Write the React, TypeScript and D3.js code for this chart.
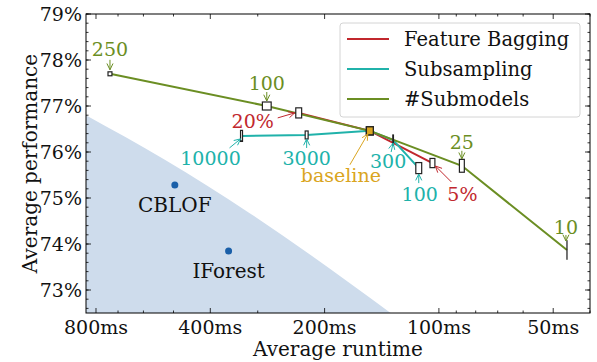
import { useEffect, useRef } from 'react';
import * as d3 from 'd3';

const W = 597;
const H = 362;

// Feature Bagging (fraction of features)
const fbLabels = ['20%', 'baseline', '5%'];
const fbRuntime = [234, 152, 104];
const fbPerf = [76.85, 76.46, 75.76];
const fbRtErr = [0.018, 0.021, 0.015];
const fbPerfErr = [0.11, 0.087, 0.1];

// Subsampling (samples per submodel)
const ssLabels = ['10000', '3000', 'baseline', '300', '100'];
const ssRuntime = [331, 223, 152, 132, 113];
const ssPerf = [76.35, 76.37, 76.46, 76.26, 75.65];
const ssRtErr = [0.006, 0.009, 0.021, 0.002, 0.018];
const ssPerfErr = [0.12, 0.087, 0.087, 0.11, 0.12];

// #Submodels
const smLabels = ['250', '100', 'baseline', '25', '10'];
const smRuntime = [735, 284, 152, 87, 46];
const smPerf = [77.7, 77.0, 76.46, 75.7, 73.87];
const smRtErr = [0.012, 0.027, 0.021, 0.015, 0.0];
const smPerfErr = [0.043, 0.087, 0.087, 0.14, 0.2];

// other detectors
const otherNames = ['CBLOF', 'IForest'];
const otherRuntime = [496, 358];
const otherPerf = [75.28, 73.85];

// dominated region boundary
const frontierRuntime = [850, 527, 315, 134];
const frontierPerf = [76.8, 75.83, 74.67, 72.5];

const xTickValues = [800, 400, 200, 100, 50];
const xTickLabels = ['800ms', '400ms', '200ms', '100ms', '50ms'];
const xMinorValues = [40, 60, 70, 80, 90, 300, 500, 600, 700];
const yTickValues = [73, 74, 75, 76, 77, 78, 79];

const RED = '#c1272d';
const TEAL = '#20b2aa';
const GREEN = '#6b8e23';
const ORANGE = '#daa520';
const FONT = "'DejaVu Serif', 'Liberation Serif', serif";

// annotation layout: [labelDx, labelDy, tailDx, tailDy, headDx, headDy] relative to point
const fbAnnot = [[-46, 8, -21, 5, -4, 0], null, [30, 31, 19, 19, 3, 3]];
const ssAnnot = [
  [-31, 22, -12, 12, -1, 3],
  [0, 23, 0, 13, 0, 4],
  null,
  [-5, 21, -2, 12, 0, 3],
  [1, 26, 0, 15, 0, 6],
];
const smAnnot = [
  [0, -24, 0, -14, 0, -4],
  [0, -23, 0, -14, 0, -5],
  null,
  [0, -23, 0, -15, 0, -7],
  [-1, -23, -1, -15, -1, -9],
];
const baseAnnot = [-29, 45, -20, 34, -2, 3];

export default function App() {
  const ref = useRef<SVGSVGElement | null>(null);

  useEffect(() => {
    if (!ref.current) return;
    document.body.style.margin = '0';
    const svg = d3.select(ref.current);
    svg.selectAll('*').remove();

    const left = 86, right = 590, top = 14, bottom = 313;

    const x = d3.scaleLog().domain([850, 40]).range([left, right]);
    const y = d3.scaleLinear().domain([72.5, 79]).range([bottom, top]);

    svg.append('defs').append('clipPath').attr('id', 'plot-clip')
      .append('rect')
      .attr('x', left).attr('y', top)
      .attr('width', right - left).attr('height', bottom - top);

    const plot = svg.append('g').attr('clip-path', 'url(#plot-clip)');

    // shaded region
    const pts: [number, number][] = frontierRuntime.map((r, i) => [x(r), y(frontierPerf[i])]);
    const frontier = d3.line().curve(d3.curveMonotoneX)(pts) || '';
    plot.append('path')
      .attr('d', `${frontier}L${x(40)},${y(72.5)}L${x(850)},${y(72.5)}Z`)
      .attr('fill', '#cedcec');

    // other detectors
    otherNames.forEach((name, i) => {
      plot.append('circle')
        .attr('cx', x(otherRuntime[i]))
        .attr('cy', y(otherPerf[i]))
        .attr('r', 3.5)
        .attr('fill', '#1a5fa8');
      svg.append('text')
        .attr('x', x(otherRuntime[i]))
        .attr('y', y(otherPerf[i]) + 20)
        .attr('dy', '0.35em')
        .attr('text-anchor', 'middle')
        .attr('font-family', FONT)
        .attr('font-size', 20)
        .attr('fill', '#111')
        .text(name);
    });

    const series = [
      { labels: fbLabels, rt: fbRuntime, perf: fbPerf, rtErr: fbRtErr, perfErr: fbPerfErr, color: RED, annot: fbAnnot },
      { labels: ssLabels, rt: ssRuntime, perf: ssPerf, rtErr: ssRtErr, perfErr: ssPerfErr, color: TEAL, annot: ssAnnot },
      { labels: smLabels, rt: smRuntime, perf: smPerf, rtErr: smRtErr, perfErr: smPerfErr, color: GREEN, annot: smAnnot },
    ];

    series.forEach(s => {
      const l = d3.line<number>()
        .x((_, i) => x(s.rt[i]))
        .y((_, i) => y(s.perf[i]));
      plot.append('path')
        .attr('d', l(s.rt) || '')
        .attr('fill', 'none')
        .attr('stroke', s.color)
        .attr('stroke-width', 2);
    });

    // boxes (runtime spread x performance spread)
    series.forEach(s => {
      s.rt.forEach((r, i) => {
        const x1 = x(r * (1 + s.rtErr[i]));
        const x2 = x(r / (1 + s.rtErr[i]));
        const y1 = y(s.perf[i] + s.perfErr[i]);
        const y2 = y(s.perf[i] - s.perfErr[i]);
        const isBase = s.labels[i] === 'baseline';
        plot.append('rect')
          .attr('x', Math.min(x1, x2))
          .attr('y', y1)
          .attr('width', Math.max(Math.abs(x2 - x1), 0.05))
          .attr('height', y2 - y1)
          .attr('fill', isBase ? ORANGE : '#fff')
          .attr('stroke', '#222')
          .attr('stroke-width', 1.2);
      });
    });

    // annotations
    const drawArrow = (x0: number, y0: number, x1: number, y1: number, color: string) => {
      const ang = Math.atan2(y1 - y0, x1 - x0);
      const hl = 7, ha = 0.45;
      const p = d3.path();
      p.moveTo(x0, y0); p.lineTo(x1, y1);
      p.moveTo(x1 - hl * Math.cos(ang - ha), y1 - hl * Math.sin(ang - ha));
      p.lineTo(x1, y1);
      p.lineTo(x1 - hl * Math.cos(ang + ha), y1 - hl * Math.sin(ang + ha));
      svg.append('path')
        .attr('d', p.toString())
        .attr('fill', 'none')
        .attr('stroke', color)
        .attr('stroke-width', 1);
    };

    const annotate = (px: number, py: number, a: number[], text: string, color: string) => {
      svg.append('text')
        .attr('x', px + a[0])
        .attr('y', py + a[1])
        .attr('dy', '0.35em')
        .attr('text-anchor', 'middle')
        .attr('font-family', FONT)
        .attr('font-size', 19)
        .attr('fill', color)
        .text(text);
      drawArrow(px + a[2], py + a[3], px + a[4], py + a[5], color);
    };

    series.forEach(s => {
      s.annot.forEach((a, i) => {
        if (!a) return;
        annotate(x(s.rt[i]), y(s.perf[i]), a, s.labels[i], s.color);
      });
    });

    const bi = ssLabels.indexOf('baseline');
    annotate(x(ssRuntime[bi]), y(ssPerf[bi]), baseAnnot, 'baseline', ORANGE);

    // frame and ticks
    svg.append('rect')
      .attr('x', left).attr('y', top)
      .attr('width', right - left).attr('height', bottom - top)
      .attr('fill', 'none').attr('stroke', '#000').attr('stroke-width', 1);

    const ticks = svg.append('g').attr('stroke', '#000').attr('stroke-width', 0.8);
    const xt = (v: number, len: number) => {
      ticks.append('line').attr('x1', x(v)).attr('x2', x(v)).attr('y1', bottom).attr('y2', bottom - len);
      ticks.append('line').attr('x1', x(v)).attr('x2', x(v)).attr('y1', top).attr('y2', top + len);
    };
    const yt = (v: number, len: number) => {
      ticks.append('line').attr('x1', left).attr('x2', left + len).attr('y1', y(v)).attr('y2', y(v));
      ticks.append('line').attr('x1', right).attr('x2', right - len).attr('y1', y(v)).attr('y2', y(v));
    };
    xTickValues.forEach(v => xt(v, 5));
    xMinorValues.forEach(v => xt(v, 2.5));
    yTickValues.forEach(v => yt(v, 5));
    d3.range(72.6, 79.01, 0.2).forEach(v => yt(v, 2.5));

    xTickValues.forEach((v, i) => {
      svg.append('text')
        .attr('x', x(v)).attr('y', bottom + 14).attr('dy', '0.35em')
        .attr('text-anchor', 'middle')
        .attr('font-family', FONT).attr('font-size', 19).attr('fill', '#111')
        .text(xTickLabels[i]);
    });
    yTickValues.forEach(v => {
      svg.append('text')
        .attr('x', left - 4).attr('y', y(v)).attr('dy', '0.35em')
        .attr('text-anchor', 'end')
        .attr('font-family', FONT).attr('font-size', 19).attr('fill', '#111')
        .text(`${v}%`);
    });

    svg.append('text')
      .attr('x', (left + right) / 2).attr('y', 349).attr('dy', '0.35em')
      .attr('text-anchor', 'middle')
      .attr('font-family', FONT).attr('font-size', 20).attr('fill', '#111')
      .text('Average runtime');
    svg.append('text')
      .attr('transform', `translate(30,${(top + bottom) / 2}) rotate(-90)`)
      .attr('dy', '0.35em')
      .attr('text-anchor', 'middle')
      .attr('font-family', FONT).attr('font-size', 20).attr('fill', '#111')
      .text('Average performance');

    // legend
    const lg = svg.append('g');
    lg.append('rect')
      .attr('x', 340).attr('y', 23).attr('width', 240).attr('height', 94)
      .attr('rx', 3)
      .attr('fill', '#fff').attr('fill-opacity', 0.85)
      .attr('stroke', '#d4d4d4').attr('stroke-width', 1);
    const items = [
      { label: 'Feature Bagging', color: RED },
      { label: 'Subsampling', color: TEAL },
      { label: '#Submodels', color: GREEN },
    ];
    items.forEach((it, i) => {
      const yy = 39 + i * 30;
      lg.append('line')
        .attr('x1', 347).attr('x2', 389).attr('y1', yy).attr('y2', yy)
        .attr('stroke', it.color).attr('stroke-width', 2);
      lg.append('text')
        .attr('x', 404).attr('y', yy).attr('dy', '0.35em')
        .attr('font-family', FONT).attr('font-size', 19.5).attr('fill', '#111')
        .text(it.label);
    });
  }, []);

  return <svg ref={ref} width={W} height={H} style={{ display: 'block' }} />;
}
